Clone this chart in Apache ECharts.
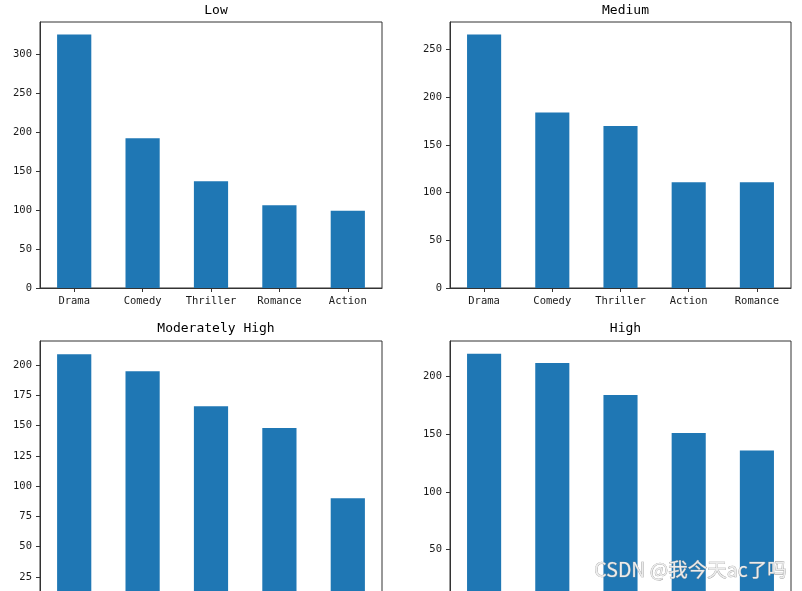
<!DOCTYPE html>
<html>
<head>
<meta charset="utf-8">
<script src="https://cdn.jsdelivr.net/npm/echarts@6/dist/echarts.min.js"></script>
<style>
html,body{margin:0;padding:0;overflow:hidden;background:#fff;}
#chart{width:802px;height:630px;}
</style>
</head>
<body>
<div id="chart"></div>
<script>
// Subplot titles
const titles = ['Low', 'Medium', 'Moderately High', 'High'];
// Categories per subplot
const catsLow = ['Drama', 'Comedy', 'Thriller', 'Romance', 'Action'];
const catsMedium = ['Drama', 'Comedy', 'Thriller', 'Action', 'Romance'];
const catsModHigh = ['Drama', 'Comedy', 'Thriller', 'Romance', 'Action'];
const catsHigh = ['Drama', 'Comedy', 'Thriller', 'Action', 'Romance'];
// Values per subplot
const valsLow = [325, 192, 137, 106, 99];
const valsMedium = [266, 184, 170, 111, 111];
const valsModHigh = [209, 195, 166, 148, 90];
const valsHigh = [220, 212, 184, 151, 136];
// Y tick labels
const ticksLow = [0, 50, 100, 150, 200, 250, 300];
const ticksMedium = [0, 50, 100, 150, 200, 250];
const ticksModHigh = [0, 25, 50, 75, 100, 125, 150, 175, 200];
const ticksHigh = [0, 50, 100, 150, 200];
// Axis upper limits (matplotlib auto margins)
const yMaxes = [341, 279, 220, 231];

const cats = [catsLow, catsMedium, catsModHigh, catsHigh];
const vals = [valsLow, valsMedium, valsModHigh, valsHigh];
const ticks = [ticksLow, ticksMedium, ticksModHigh, ticksHigh];

const grids = [
  {left: 40, top: 22, width: 342, height: 266},
  {left: 450, top: 22, width: 341, height: 266},
  {left: 40, top: 341, width: 342, height: 266},
  {left: 450, top: 341, width: 341, height: 266}
];
const mono = '"DejaVu Sans Mono", monospace';
const dark = '#1a1a1a';

const option = {
  animation: false,
  backgroundColor: '#fff',
  title: titles.map((t, i) => ({
    text: t,
    left: grids[i].left + grids[i].width / 2,
    top: i < 2 ? -1 : 317,
    textAlign: 'center',
    textStyle: {fontFamily: mono, fontSize: 13, fontWeight: 'normal', color: '#000'}
  })),
  grid: grids.map(g => Object.assign({
    show: true, borderColor: '#333', borderWidth: 1, containLabel: false
  }, g)),
  xAxis: cats.map((c, i) => ({
    type: 'category', gridIndex: i, data: c,
    axisLine: {show: true, lineStyle: {color: '#333', width: 1}},
    axisTick: {show: true, alignWithLabel: true, length: 4, lineStyle: {color: '#333'}},
    axisLabel: {fontFamily: mono, fontSize: 10.5, color: dark, margin: 8, interval: 0}
  })),
  yAxis: ticks.map((tk, i) => ({
    type: 'value', gridIndex: i, min: 0, max: yMaxes[i],
    splitLine: {show: false},
    axisLine: {show: true, lineStyle: {color: '#333', width: 1}},
    axisTick: {show: true, length: 4, customValues: tk, lineStyle: {color: '#333'}},
    axisLabel: {fontFamily: mono, fontSize: 10.5, color: dark, margin: 8, customValues: tk}
  })),
  series: vals.map((v, i) => ({
    type: 'bar', xAxisIndex: i, yAxisIndex: i, data: v,
    barWidth: '50%',
    itemStyle: {color: '#1f77b4'}
  })),
  graphic: [{
    type: 'text',
    right: 15, top: 559,
    style: {
      text: 'CSDN @我今天ac了吗',
      font: '19.5px "Noto Sans CJK SC", sans-serif',
      fill: '#ececec',
      stroke: '#9a9a9a',
      lineWidth: 0.7
    },
    z: 100
  }]
};

const chart = echarts.init(document.getElementById('chart'), null, {renderer: 'canvas'});
chart.setOption(option);
</script>
</body>
</html>
